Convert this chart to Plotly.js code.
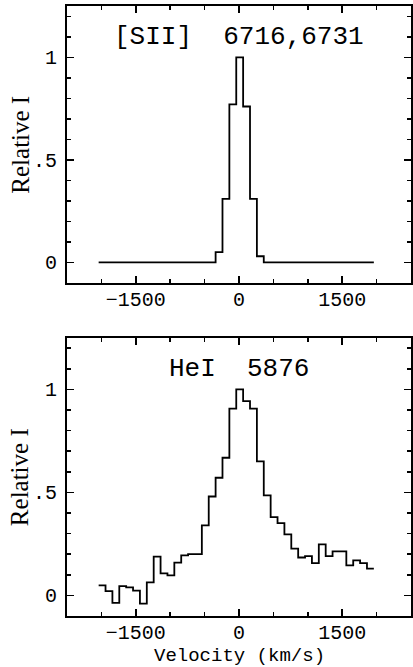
<!DOCTYPE html>
<html>
<head>
<meta charset="utf-8">
<script src="https://cdn.plot.ly/plotly-3.0.1.min.js"></script>
<style>html,body{margin:0;padding:0;background:#fff;}#chart{width:413px;height:667px;}</style>
</head>
<body>
<div id="chart"></div>
<script>
// Velocity bin centres (km/s), 100 km/s bins
const velocity = [-1990,-1890,-1790,-1690,-1590,-1490,-1390,-1290,-1190,-1090,
                  -990,-890,-790,-690,-590,-490,-390,-290,-190,-90,
                  10,110,210,310,410,510,610,710,810,910,
                  1010,1110,1210,1310,1410,1510,1610,1710,1810,1910];
const binWidth = 100;

// [SII] 6716,6731 relative intensity
const siiFlux = [0,0,0,0,0,0,0,0,0,0,
                 0,0,0,0,0,0,0,0.05,0.31,0.77,
                 1.0,0.76,0.31,0.03,0,0,0,0,0,0,
                 0,0,0,0,0,0,0,0,0,0];

// HeI 5876 relative intensity
const heiFlux = [0.049,0.021,-0.036,0.045,0.039,0.023,-0.040,0.063,0.188,0.107,
                 0.097,0.159,0.194,0.200,0.200,0.340,0.480,0.571,0.668,0.906,
                 1.000,0.943,0.906,0.650,0.485,0.380,0.351,0.296,0.227,0.184,
                 0.191,0.157,0.248,0.191,0.214,0.214,0.146,0.170,0.157,0.130];

const panelTitles = ["[SII]  6716,6731", "HeI  5876"];
const yTickVals = [0, 0.5, 1];
const yTickText = ["0", ".5", "1"];
const xTickVals = [-1500, 0, 1500];
const xTickText = ["\u22121500", "0", "1500"];

function stepTrace(flux, xa, ya) {
  const xs = velocity.map(v => v - binWidth / 2);
  xs.push(velocity[velocity.length - 1] + binWidth / 2);
  const ys = flux.slice();
  ys.push(flux[flux.length - 1]);
  return {x: xs, y: ys, xaxis: xa, yaxis: ya, type: 'scatter', mode: 'lines',
          line: {shape: 'hv', color: '#000', width: 1.8}, hoverinfo: 'skip', showlegend: false};
}

const mono = "Liberation Mono, DejaVu Sans Mono, monospace";
const tickFont = {family: mono, size: 20, color: '#000'};

function xAxis(anchor) {
  return {anchor: anchor, domain: [0, 1], range: [-2500, 2500],
    tickmode: 'array', tickvals: xTickVals, ticktext: xTickText,
    ticks: 'inside', ticklen: 7, tickwidth: 1.5, tickcolor: '#000',
    minor: {tickmode: 'linear', tick0: 0, dtick: 500, ticks: 'inside', ticklen: 4, tickwidth: 1.5, tickcolor: '#000'},
    showline: true, linewidth: 2, linecolor: '#000', mirror: 'ticks',
    showgrid: false, zeroline: false, tickfont: tickFont, ticklabelstandoff: -3};
}
function yAxis(anchor, domain) {
  return {anchor: anchor, domain: domain, range: [-0.1, 1.25],
    tickmode: 'array', tickvals: yTickVals, ticktext: yTickText,
    ticks: 'inside', ticklen: 7, tickwidth: 1.5, tickcolor: '#000',
    minor: {tickmode: 'linear', tick0: 0, dtick: 0.1, ticks: 'inside', ticklen: 4, tickwidth: 1.5, tickcolor: '#000'},
    showline: true, linewidth: 2, linecolor: '#000', mirror: 'ticks',
    showgrid: false, zeroline: false, tickfont: tickFont, ticklabelstandoff: 4};
}

const data = [stepTrace(siiFlux, 'x', 'y'), stepTrace(heiFlux, 'x2', 'y2')];

const titleFont = {family: mono, size: 26, color: '#000'};
const serif = {family: "Liberation Serif, DejaVu Serif, serif", size: 25, color: '#000'};

const layout = {
  width: 413, height: 667,
  margin: {l: 67, r: 2, t: 6, b: 51},
  paper_bgcolor: '#fff', plot_bgcolor: '#fff',
  xaxis: xAxis('y'),
  yaxis: yAxis('x', [0.546, 1]),
  xaxis2: xAxis('y2'),
  yaxis2: yAxis('x2', [0, 0.456]),
  annotations: [
    {text: panelTitles[0], xref: 'x', yref: 'y', x: 0, y: 1.1, showarrow: false, font: titleFont, xanchor: 'center', yanchor: 'middle'},
    {text: panelTitles[1], xref: 'x2', yref: 'y2', x: 0, y: 1.1, showarrow: false, font: titleFont, xanchor: 'center', yanchor: 'middle'},
    {text: 'Relative I', xref: 'paper', yref: 'paper', x: -0.136, y: 0.773, textangle: -90, showarrow: false, font: serif, xanchor: 'center', yanchor: 'middle'},
    {text: 'Relative I', xref: 'paper', yref: 'paper', x: -0.136, y: 0.228, textangle: -90, showarrow: false, font: serif, xanchor: 'center', yanchor: 'middle'},
    {text: 'Velocity (km/s)', xref: 'paper', yref: 'paper', x: 0.5, y: -0.065, showarrow: false, font: {family: mono, size: 19, color: '#000'}, xanchor: 'center', yanchor: 'middle'}
  ]
};

Plotly.newPlot('chart', data, layout, {staticPlot: true, displayModeBar: false});
</script>
</body>
</html>
